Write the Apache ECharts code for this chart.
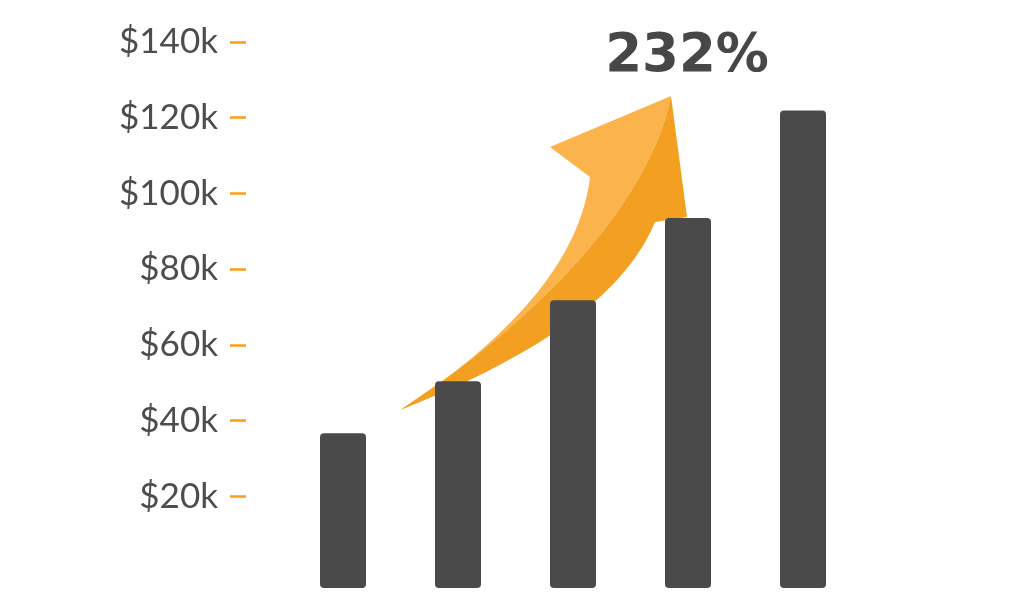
<!DOCTYPE html>
<html>
<head>
    <meta charset="UTF-8">
    <title>232%</title>
    <style>
        html, body { margin: 0; padding: 0; background: #fff; }
        #main { width: 1024px; height: 614px; }
    </style>
    <script src="https://cdn.jsdelivr.net/npm/echarts@6/dist/echarts.min.js"></script>
</head>
<body>
    <div id="main"></div>
    <script type="text/javascript">
        // 数据
        var categories = ['1', '2', '3', '4', '5'];
        var revenue = [36.7, 50.4, 71.8, 93.5, 121.9];   // $k
        var tickValues = [20, 40, 60, 80, 100, 120, 140];
        var growthText = '232%';

        var myChart = echarts.init(document.getElementById('main'));

        // 三次贝塞尔取点 (箭头装饰用)
        function cubic(p0, p1, p2, p3, n) {
            var pts = [];
            for (var i = 0; i <= n; i++) {
                var t = i / n, u = 1 - t;
                pts.push([
                    u * u * u * p0[0] + 3 * u * u * t * p1[0] + 3 * u * t * t * p2[0] + t * t * t * p3[0],
                    u * u * u * p0[1] + 3 * u * u * t * p1[1] + 3 * u * t * t * p2[1] + t * t * t * p3[1]
                ]);
            }
            return pts;
        }
        var tail = [400, 410], tip = [671, 96];
        var divider = cubic(tip, [650, 200], [545, 315], tail, 40);
        var arrowLight = cubic(tail, [470, 365], [578, 282], [590, 177], 40)
            .concat([[550, 147]])
            .concat(divider);
        var arrowDark = [[671, 96], [687, 217]]
            .concat(cubic([655, 222], [622, 302], [522, 362], tail, 40))
            .concat(divider.slice().reverse());

        var option = {
            backgroundColor: '#ffffff',
            animation: false,
            grid: {
                left: 285.5,
                right: 163.5,
                top: 42,
                bottom: 26
            },
            xAxis: {
                type: 'category',
                data: categories,
                boundaryGap: true,
                axisLine: { show: false },
                axisTick: { show: false },
                axisLabel: { show: false }
            },
            yAxis: {
                type: 'value',
                min: -4.2,
                max: 140,
                startValue: -4.2,
                offset: 39.5,
                splitLine: { show: false },
                axisLine: { show: false },
                axisTick: {
                    show: true,
                    length: 16,
                    customValues: tickValues,
                    lineStyle: { color: '#f7a11a', width: 2.5 }
                },
                axisLabel: {
                    customValues: tickValues,
                    margin: 28,
                    color: '#4d4d4d',
                    fontFamily: 'Lato',
                    fontSize: 35,
                    formatter: function (v) { return '$' + v + 'k'; }
                }
            },
            graphic: [
                { type: 'polygon', z: 0, shape: { points: arrowLight }, style: { fill: '#fab44b' } },
                { type: 'polygon', z: 0, shape: { points: arrowDark }, style: { fill: '#f3a022' } },
                {
                    type: 'text', z: 0, x: 687, y: 57,
                    style: {
                        text: growthText,
                        fill: '#474747',
                        font: 'bold 53px "DejaVu Sans"',
                        align: 'center',
                        verticalAlign: 'middle'
                    }
                }
            ],
            series: [{
                type: 'bar',
                z: 2,
                data: revenue,
                barWidth: 46,
                itemStyle: {
                    color: '#4a4a4a',
                    borderRadius: 4
                }
            }]
        };
        myChart.setOption(option);
    </script>
</body>
</html>
